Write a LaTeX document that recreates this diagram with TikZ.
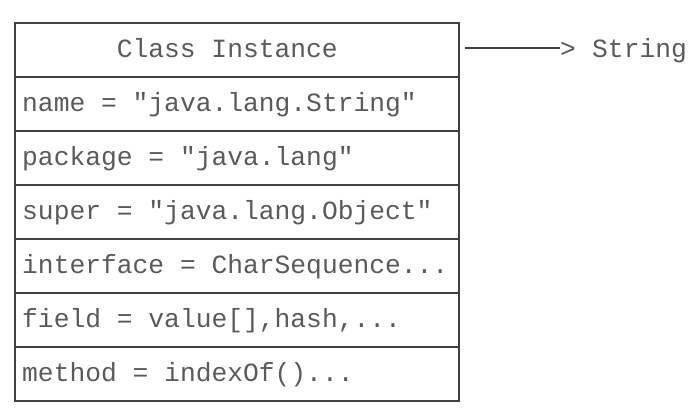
\documentclass[tikz,border=0pt]{standalone}
\usepackage{fontspec}
\newfontfamily\mono{Liberation Mono}
\definecolor{linec}{HTML}{404040}
\definecolor{textc}{HTML}{5A5A5A}
\tikzset{
  rowbox/.style={draw=linec, line width=1.5pt, minimum width=444pt, minimum height=54pt, inner sep=0pt, anchor=north west},
  rowtext/.style={anchor=base west, inner sep=0pt, text=textc, font=\mono\fontsize{26.3}{30}\selectfont},
}
\begin{document}
\begin{tikzpicture}[x=1pt,y=-1pt]
\useasboundingbox (0,0) rectangle (698,413);
\node[rowbox] (b0) at (14,22) {};
\node[rowbox] (b1) at (14,76) {};
\node[rowbox] (b2) at (14,130) {};
\node[rowbox] (b3) at (14,184) {};
\node[rowbox] (b4) at (14,238) {};
\node[rowbox] (b5) at (14,292) {};
\node[rowbox] (b6) at (14,346) {};
\node[rowtext] (t0) at (116.6,57) {Class Instance};
\node[rowtext] (t1) at (22,111) {name = "java.lang.String"};
\node[rowtext] (t2) at (22,165) {package = "java.lang"};
\node[rowtext] (t3) at (22,219) {super = "java.lang.Object"};
\node[rowtext] (t4) at (22,273) {interface = CharSequence...};
\node[rowtext] (t5) at (22,327) {field = value[],hash,...};
\node[rowtext] (t6) at (22,381) {method = indexOf()...};
\node[rowtext] (gt) at (560,57) {>};
\node[rowtext] (str) at (592,57) {String};
\coordinate (s) at (465,48);
\draw[linec, line width=1.5pt] (s) -- (s -| gt.west) coordinate (e);
\end{tikzpicture}
\end{document}
